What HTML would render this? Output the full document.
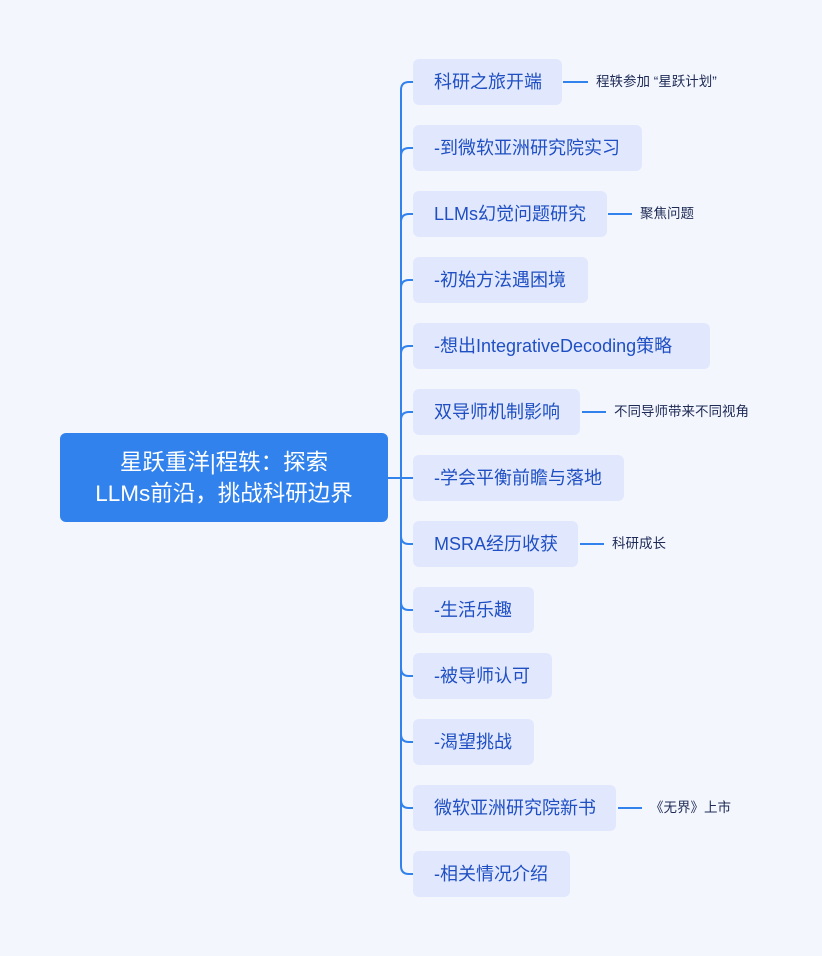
<!DOCTYPE html>
<html><head><meta charset="utf-8"><style>
body{margin:0;width:822px;height:956px;background:#f4f6fe;position:relative;overflow:hidden;font-family:"Liberation Sans","Noto Sans CJK SC",sans-serif}
.root{position:absolute;left:60px;top:433px;width:328px;height:89px;background:#3182ec;border-radius:6px;color:#fff;font-size:22.5px;line-height:31px;text-align:center;display:flex;align-items:center;justify-content:center}
.n{position:absolute;left:413px;height:46px;background:#e1e8fd;border-radius:6px;color:#1f4fc2;font-size:18px;line-height:46px;padding-left:21px;box-sizing:border-box;white-space:nowrap}
.l{position:absolute;font-size:13.5px;color:#1d2a55;line-height:16px;white-space:nowrap}
svg{position:absolute;left:0;top:0}
</style></head><body>
<svg width="822" height="956">
<g stroke="#3182ec" stroke-width="2" fill="none">
<line x1="388" y1="478" x2="401" y2="478"/>
<path d="M401 90 V866"/>
<path d="M401 90 Q401 82 409 82 H413"/>
<path d="M401 866 Q401 874 409 874 H413"/>
<path d="M401 156 Q401 148 409 148 H413"/>
<path d="M401 222 Q401 214 409 214 H413"/>
<path d="M401 288 Q401 280 409 280 H413"/>
<path d="M401 354 Q401 346 409 346 H413"/>
<path d="M401 420 Q401 412 409 412 H413"/>
<line x1="401" y1="478" x2="413" y2="478"/>
<path d="M401 536 Q401 544 409 544 H413"/>
<path d="M401 602 Q401 610 409 610 H413"/>
<path d="M401 668 Q401 676 409 676 H413"/>
<path d="M401 734 Q401 742 409 742 H413"/>
<path d="M401 800 Q401 808 409 808 H413"/>
<line x1="563" y1="82" x2="588" y2="82"/>
<line x1="608" y1="214" x2="632" y2="214"/>
<line x1="582" y1="412" x2="606" y2="412"/>
<line x1="580" y1="544" x2="604" y2="544"/>
<line x1="618" y1="808" x2="642" y2="808"/>
</g></svg>
<div class="root"><div>星跃重洋|程轶：探索<br>LLMs前沿，挑战科研边界</div></div>
<div class="n" style="top:59px;width:149px">科研之旅开端</div>
<div class="n" style="top:125px;width:229px">-到微软亚洲研究院实习</div>
<div class="n" style="top:191px;width:194px">LLMs幻觉问题研究</div>
<div class="n" style="top:257px;width:175px">-初始方法遇困境</div>
<div class="n" style="top:323px;width:297px">-想出IntegrativeDecoding策略</div>
<div class="n" style="top:389px;width:167px">双导师机制影响</div>
<div class="n" style="top:455px;width:211px">-学会平衡前瞻与落地</div>
<div class="n" style="top:521px;width:165px">MSRA经历收获</div>
<div class="n" style="top:587px;width:121px">-生活乐趣</div>
<div class="n" style="top:653px;width:139px">-被导师认可</div>
<div class="n" style="top:719px;width:121px">-渴望挑战</div>
<div class="n" style="top:785px;width:203px">微软亚洲研究院新书</div>
<div class="n" style="top:851px;width:157px">-相关情况介绍</div>
<div class="l" style="left:596px;top:74px">程轶参加 “星跃计划”</div>
<div class="l" style="left:640px;top:206px">聚焦问题</div>
<div class="l" style="left:614px;top:404px">不同导师带来不同视角</div>
<div class="l" style="left:612px;top:536px">科研成长</div>
<div class="l" style="left:650px;top:800px">《无界》上市</div>
</body></html>
